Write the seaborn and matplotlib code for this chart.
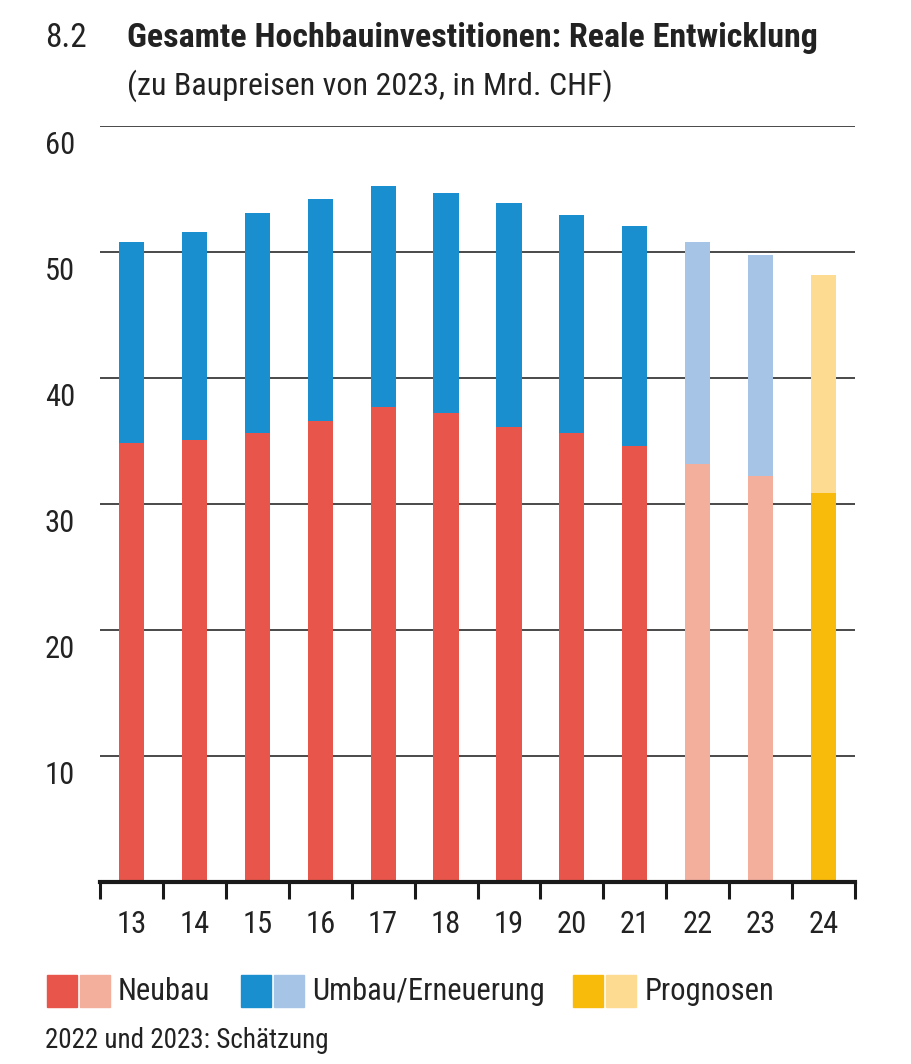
import matplotlib
matplotlib.use("Agg")
import matplotlib.pyplot as plt
import matplotlib.transforms as mtransforms
from matplotlib.patches import Rectangle
from matplotlib import font_manager
import seaborn as sns
import pandas as pd

years = ["13", "14", "15", "16", "17", "18", "19", "20", "21", "22", "23", "24"]
neubau = [34.85, 35.1, 35.6, 36.6, 37.7, 37.2, 36.1, 35.6, 34.6, 33.2, 32.2, 30.9]
total = [50.8, 51.6, 53.1, 54.2, 55.2, 54.7, 53.9, 52.9, 52.1, 50.8, 49.8, 48.2]
status = ["ist"] * 9 + ["schaetzung", "schaetzung", "prognose"]
yticks = [10, 20, 30, 40, 50, 60]

neu_col = {"ist": "#E8554A", "schaetzung": "#F4AE9C", "prognose": "#F8BA0B"}
umb_col = {"ist": "#1A8FD0", "schaetzung": "#A6C4E6", "prognose": "#FDDB90"}

sns.set_theme(style="white")
avail = {f.name for f in font_manager.fontManager.ttflist}
prefs = ["Roboto Condensed", "Fira Sans Condensed", "IBM Plex Sans Condensed",
         "Open Sans Condensed", "PT Sans Narrow", "Archivo Narrow", "Liberation Sans Narrow",
         "DejaVu Sans"]
fam = next(p for p in prefs if p in avail)
plt.rcParams["font.family"] = [fam, "DejaVu Sans"]

df = pd.DataFrame({"year": years, "neubau": neubau, "total": total, "status": status})

fig = plt.figure(figsize=(9.11, 10.64), dpi=100)
ax = fig.add_axes([100 / 911, 1 - 882 / 1064, 755 / 911, (882 - 126) / 1064])

for y in yticks:
    ax.axhline(y, color="#3a3a3a", lw=1.3, zorder=0)

sns.barplot(data=df, x="year", y="total", hue="year",
            palette=[umb_col[s] for s in status], width=0.4, legend=False,
            saturation=1, linewidth=0, ax=ax, zorder=2)
sns.barplot(data=df, x="year", y="neubau", hue="year",
            palette=[neu_col[s] for s in status], width=0.4, legend=False,
            saturation=1, linewidth=0, ax=ax, zorder=3)

ax.set_xlim(-0.5, len(years) - 0.5)
ax.set_ylim(0, 60)
ax.set_xlabel("")
ax.set_ylabel("")
for s in ["top", "right", "left"]:
    ax.spines[s].set_visible(False)
ax.spines["bottom"].set_color("#1a1a1a")
ax.spines["bottom"].set_linewidth(3)
ax.spines["bottom"].set_zorder(5)

ax.set_yticks(yticks)
ax.set_yticklabels([str(v) for v in yticks], fontsize=22, color="#222222")
ax.tick_params(axis="y", length=0, pad=18)
off = mtransforms.ScaledTranslation(0, -16 / 100, fig.dpi_scale_trans)
for lab in ax.get_yticklabels():
    lab.set_transform(lab.get_transform() + off)

ax.set_xticks(range(len(years)))
ax.set_xticklabels(years, fontsize=22, color="#222222")
ax.set_xticks([i - 0.5 for i in range(len(years) + 1)], minor=True)
ax.tick_params(axis="x", which="major", length=0, pad=20)
ax.tick_params(axis="x", which="minor", length=12, width=2.2, color="#1a1a1a", direction="out", bottom=True)

fig.text(45 / 911, 1 - 38 / 1064, "8.2", fontsize=24, color="#222222", va="center", ha="left")
fig.text(127 / 911, 1 - 38 / 1064, "Gesamte Hochbauinvestitionen: Reale Entwicklung",
         fontsize=24.5, fontweight="bold", color="#222222", va="center", ha="left")
fig.text(127 / 911, 1 - 86 / 1064, "(zu Baupreisen von 2023, in Mrd. CHF)",
         fontsize=23, color="#222222", va="center", ha="left")

legend_items = [
    (47, neu_col["ist"], neu_col["schaetzung"], 118, "Neubau"),
    (241, umb_col["ist"], umb_col["schaetzung"], 312, "Umbau/Erneuerung"),
    (573, neu_col["prognose"], umb_col["prognose"], 645, "Prognosen"),
]
for x0, c1, c2, tx, txt in legend_items:
    for dx, c in [(0, c1), (33, c2)]:
        fig.patches.append(Rectangle(((x0 + dx) / 911, 1 - 1007 / 1064), 30 / 911, 32 / 1064,
                                     transform=fig.transFigure, color=c, figure=fig))
    fig.text(tx / 911, 1 - 991 / 1064, txt, fontsize=22, color="#222222", va="center", ha="left")

fig.text(45 / 911, 1 - 1040 / 1064, "2022 und 2023: Schätzung", fontsize=19.5,
         color="#222222", va="center", ha="left")

fig.savefig("out.png", dpi=100)
